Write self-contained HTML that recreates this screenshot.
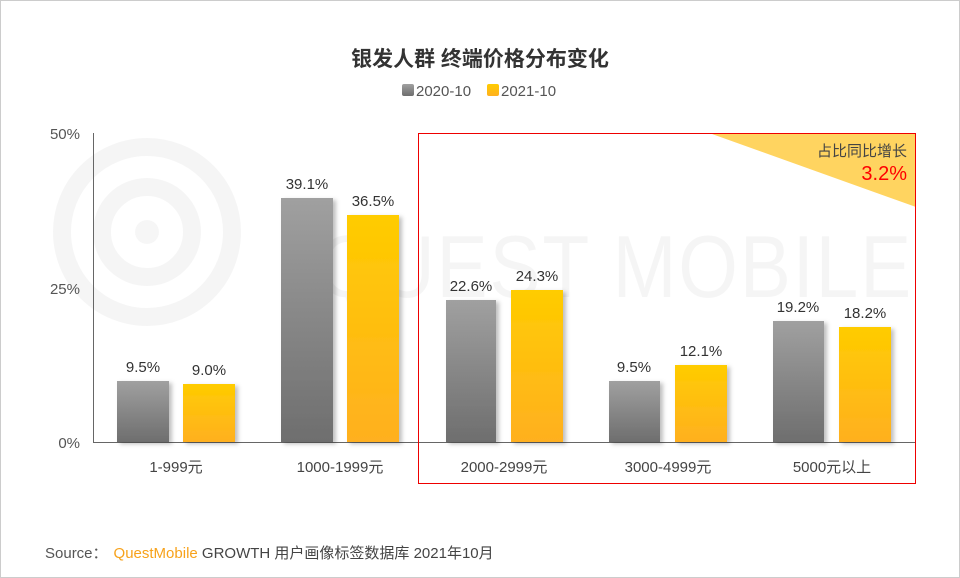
<!DOCTYPE html>
<html><head><meta charset="utf-8"><style>
body{margin:0;background:#fff}
svg{display:block;font-family:"Liberation Sans","Noto Sans CJK SC",sans-serif}
</style></head><body>
<svg width="960" height="578" viewBox="0 0 960 578">
<defs>
<linearGradient id="g" x1="0" y1="0" x2="0" y2="1"><stop offset="0" stop-color="#a0a0a0"/><stop offset="1" stop-color="#6e6e6e"/></linearGradient>
<linearGradient id="y" x1="0" y1="0" x2="0" y2="1"><stop offset="0" stop-color="#ffcc00"/><stop offset="1" stop-color="#ffb020"/></linearGradient>
<filter id="s" x="-20%" y="-10%" width="150%" height="120%"><feDropShadow dx="3" dy="2" stdDeviation="2" flood-color="#000" flood-opacity="0.25"/></filter>
</defs>
<rect x="0.5" y="0.5" width="959" height="577" fill="#fff" stroke="#ccc"/>
<!-- watermark -->
<g opacity="0.035" fill="none" stroke="#000" stroke-width="18">
<circle cx="147" cy="232" r="85"/><circle cx="147" cy="232" r="45"/>
</g>
<circle cx="147" cy="232" r="12" fill="#000" opacity="0.035"/>
<text x="318" y="297" font-size="88" fill="#000" opacity="0.035" letter-spacing="2" textLength="595" lengthAdjust="spacingAndGlyphs">QUEST MOBILE</text>
<text x="480" y="66" font-size="21" font-weight="bold" fill="#333" text-anchor="middle">银发人群 终端价格分布变化</text>
<rect x="402" y="84" width="12" height="12" rx="2" fill="url(#g)"/>
<text x="416" y="96" font-size="15" fill="#555">2020-10</text>
<rect x="487" y="84" width="12" height="12" rx="2" fill="url(#y)"/>
<text x="501" y="96" font-size="15" fill="#555">2021-10</text>
<g font-size="15" fill="#555" text-anchor="end">
<text x="80" y="139">50%</text><text x="80" y="294">25%</text><text x="80" y="448">0%</text>
</g>
<line x1="93.5" y1="133" x2="93.5" y2="442" stroke="#666"/>
<line x1="93" y1="442.5" x2="916" y2="442.5" stroke="#666"/>
<polygon points="712,134 916,134 916,207" fill="#ffd460"/>
<rect x="418.5" y="133.5" width="497" height="350" fill="none" stroke="#e00" stroke-width="1"/>
<text x="907" y="156" font-size="15" fill="#444" text-anchor="end">占比同比增长</text>
<text x="907" y="180" font-size="20" fill="#f00" text-anchor="end">3.2%</text>
<g filter="url(#s)">
<rect x="117" y="381" width="52" height="61" fill="url(#g)"/>
<rect x="183" y="384" width="52" height="58" fill="url(#y)"/>
<rect x="281" y="198" width="52" height="244" fill="url(#g)"/>
<rect x="347" y="215" width="52" height="227" fill="url(#y)"/>
<rect x="446" y="300" width="50" height="142" fill="url(#g)"/>
<rect x="511" y="290" width="52" height="152" fill="url(#y)"/>
<rect x="609" y="381" width="51" height="61" fill="url(#g)"/>
<rect x="675" y="365" width="52" height="77" fill="url(#y)"/>
<rect x="773" y="321" width="51" height="121" fill="url(#g)"/>
<rect x="839" y="327" width="52" height="115" fill="url(#y)"/>
</g>
<g font-size="15" fill="#333" text-anchor="middle">
<text x="143" y="372">9.5%</text><text x="209" y="375">9.0%</text>
<text x="307" y="189">39.1%</text><text x="373" y="206">36.5%</text>
<text x="471" y="291">22.6%</text><text x="537" y="281">24.3%</text>
<text x="634" y="372">9.5%</text><text x="701" y="356">12.1%</text>
<text x="798" y="312">19.2%</text><text x="865" y="318">18.2%</text>
</g>
<g font-size="15" fill="#444" text-anchor="middle">
<text x="176" y="472">1-999元</text><text x="340" y="472">1000-1999元</text>
<text x="504" y="472">2000-2999元</text><text x="668" y="472">3000-4999元</text>
<text x="832" y="472">5000元以上</text>
</g>
<text x="45" y="558" font-size="15" fill="#555">Source：<tspan fill="#f7a21b" dx="6">QuestMobile</tspan><tspan fill="#444"> GROWTH 用户画像标签数据库 2021年10月</tspan></text>
</svg>
</body></html>
